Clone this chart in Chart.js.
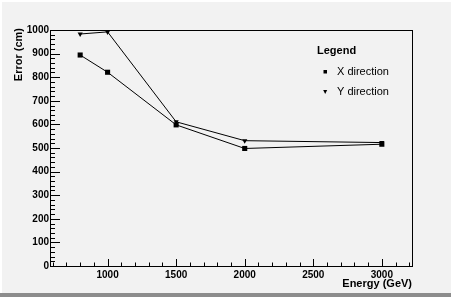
<!DOCTYPE html>
<html>
<head>
<meta charset="utf-8">
<script src="https://cdn.jsdelivr.net/npm/chart.js@4/dist/chart.umd.min.js"></script>
<style>
html,body{margin:0;padding:0;background:#f2f2f2;}
#wrap{width:451px;height:297px;position:relative;}
canvas{display:block;}
</style>
</head>
<body>
<div id="wrap"><canvas id="c" width="451" height="297"></canvas></div>
<script>
const energies = [800, 1000, 1500, 2000, 3000];
const xDirection = [894, 821, 598, 498, 516];
const yDirection = [983, 992, 611, 531, 523];
const xTicks = [1000, 1500, 2000, 2500, 3000];
const yTicks = [0, 100, 200, 300, 400, 500, 600, 700, 800, 900, 1000];
const seriesNames = ['X direction', 'Y direction'];
const legendTitle = 'Legend';
const xTitle = 'Energy (GeV)';
const yTitle = 'Error (cm)';

const FONT = '"Liberation Sans", Arial, Helvetica, sans-serif';

const rootPlugin = {
  id: 'rootStyle',
  beforeDraw(chart) {
    const ctx = chart.ctx;
    ctx.save();
    ctx.fillStyle = '#f2f2f2';
    ctx.fillRect(0, 0, chart.width, chart.height);
    ctx.fillStyle = '#ffffff';
    ctx.fillRect(0, 0, chart.width, 2);
    ctx.fillRect(0, 0, 2, chart.height);
    ctx.fillStyle = '#8c8c8c';
    ctx.fillRect(0, 293, chart.width, 4);
    ctx.restore();
  },
  afterDatasetsDraw(chart) {
    const ctx = chart.ctx;
    const xs = chart.scales.x, ys = chart.scales.y;
    const a = chart.chartArea;
    ctx.save();
    ctx.strokeStyle = '#000';
    ctx.lineWidth = 1;
    // frame
    ctx.strokeRect(Math.round(a.left) + 0.5, Math.round(a.top) + 0.5,
                   Math.round(a.right - a.left), Math.round(a.bottom - a.top));
    ctx.beginPath();
    // y ticks
    for (let v = ys.min; v <= ys.max; v += 20) {
      const py = Math.round(ys.getPixelForValue(v)) + 0.5;
      const major = (v % 100 === 0);
      ctx.moveTo(a.left, py);
      ctx.lineTo(a.left + (major ? 10 : 5), py);
    }
    // x ticks
    for (let v = 600; v <= xs.max; v += 100) {
      const px = Math.round(xs.getPixelForValue(v)) + 0.5;
      const major = (v % 500 === 0);
      ctx.moveTo(px, a.bottom);
      ctx.lineTo(px, a.bottom - (major ? 7 : 3.5));
    }
    ctx.stroke();

    // tick labels
    ctx.fillStyle = '#000';
    ctx.font = 'bold 10px ' + FONT;
    ctx.textAlign = 'right';
    ctx.textBaseline = 'middle';
    yTicks.forEach(v => {
      ctx.fillText(String(v), a.left - 1, ys.getPixelForValue(v));
    });
    ctx.textAlign = 'center';
    ctx.textBaseline = 'top';
    xTicks.forEach(v => {
      ctx.fillText(String(v), xs.getPixelForValue(v), a.bottom + 4);
    });
    // axis titles
    ctx.font = 'bold 11px ' + FONT;
    ctx.textAlign = 'right';
    ctx.fillText(xTitle, a.right, a.bottom + 12);
    ctx.save();
    ctx.translate(13, a.top - 2);
    ctx.rotate(-Math.PI / 2);
    ctx.textAlign = 'right';
    ctx.textBaseline = 'top';
    ctx.fillText(yTitle, 0, 0);
    ctx.restore();

    // legend
    ctx.font = 'bold 11px ' + FONT;
    ctx.textAlign = 'left';
    ctx.textBaseline = 'middle';
    ctx.fillText(legendTitle, 317, 51);
    ctx.font = '11px ' + FONT;
    ctx.fillText(seriesNames[0], 337, 72);
    ctx.fillText(seriesNames[1], 337, 92);
    ctx.fillRect(323.5, 70, 3.5, 3.5);
    ctx.beginPath();
    ctx.moveTo(323.2, 90);
    ctx.lineTo(327.2, 90);
    ctx.lineTo(325.2, 94);
    ctx.closePath();
    ctx.fill();
    ctx.restore();
  }
};

new Chart(document.getElementById('c'), {
  type: 'scatter',
  data: {
    datasets: [
      {
        label: seriesNames[0],
        data: energies.map((e, i) => ({x: e, y: xDirection[i]})),
        showLine: true,
        borderColor: '#000',
        backgroundColor: '#000',
        borderWidth: 1,
        pointStyle: 'rect',
        pointRadius: 3.6,
        pointBorderWidth: 0,
        tension: 0
      },
      {
        label: seriesNames[1],
        data: energies.map((e, i) => ({x: e, y: yDirection[i]})),
        showLine: true,
        borderColor: '#000',
        backgroundColor: '#000',
        borderWidth: 1,
        pointStyle: 'triangle',
        rotation: 180,
        pointRadius: 3,
        pointBorderWidth: 0,
        tension: 0
      }
    ]
  },
  options: {
    responsive: false,
    animation: false,
    devicePixelRatio: 1,
    clip: false,
    layout: { padding: { left: 50, right: 39, top: 30, bottom: 31 } },
    plugins: { legend: { display: false }, tooltip: { enabled: false } },
    scales: {
      x: { type: 'linear', min: 580, max: 3220, display: false },
      y: { type: 'linear', min: 0, max: 1000, display: false }
    }
  },
  plugins: [rootPlugin]
});
</script>
</body>
</html>
